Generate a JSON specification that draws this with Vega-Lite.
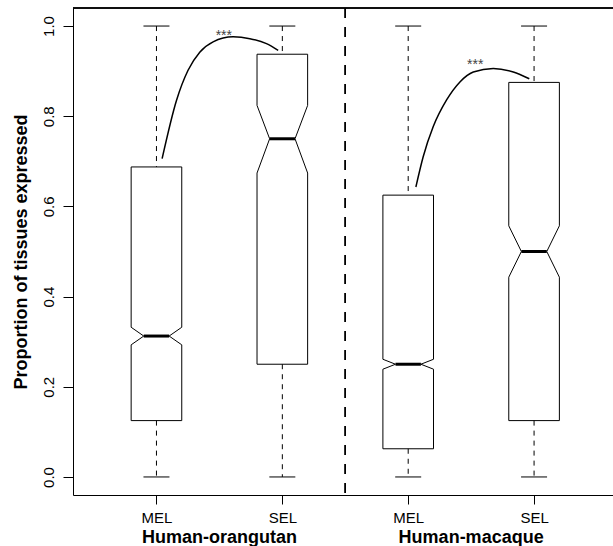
{
  "$schema": "https://vega.github.io/schema/vega-lite/v6.json",
  "width": 540,
  "height": 487,
  "autosize": "none",
  "padding": {"left": 73, "top": 8, "right": 0, "bottom": 51},
  "background": "white",
  "config": {"view": {"stroke": null}, "font": "Liberation Sans"},
  "datasets": {
    "boxes": [
      {"pair": "Human-orangutan", "set": "MEL", "pos": 1, "min": 0, "q1": 0.125, "nlo": 0.293, "med": 0.3125, "nhi": 0.332, "q3": 0.6875, "max": 1},
      {"pair": "Human-orangutan", "set": "SEL", "pos": 2, "min": 0, "q1": 0.25, "nlo": 0.674, "med": 0.75, "nhi": 0.824, "q3": 0.9375, "max": 1},
      {"pair": "Human-macaque", "set": "MEL", "pos": 3, "min": 0, "q1": 0.0625, "nlo": 0.239, "med": 0.25, "nhi": 0.261, "q3": 0.625, "max": 1},
      {"pair": "Human-macaque", "set": "SEL", "pos": 4, "min": 0, "q1": 0.125, "nlo": 0.443, "med": 0.5, "nhi": 0.557, "q3": 0.875, "max": 1}
    ],
    "curves": [
      {"cmp": "orangutan", "x": 1.045, "y": 0.706},
      {"cmp": "orangutan", "x": 1.159, "y": 0.835},
      {"cmp": "orangutan", "x": 1.251, "y": 0.902},
      {"cmp": "orangutan", "x": 1.344, "y": 0.942},
      {"cmp": "orangutan", "x": 1.45, "y": 0.965},
      {"cmp": "orangutan", "x": 1.609, "y": 0.976},
      {"cmp": "orangutan", "x": 1.742, "y": 0.972},
      {"cmp": "orangutan", "x": 1.874, "y": 0.961},
      {"cmp": "orangutan", "x": 1.967, "y": 0.946},
      {"cmp": "macaque", "x": 3.061, "y": 0.643},
      {"cmp": "macaque", "x": 3.119, "y": 0.71},
      {"cmp": "macaque", "x": 3.199, "y": 0.777},
      {"cmp": "macaque", "x": 3.305, "y": 0.836},
      {"cmp": "macaque", "x": 3.411, "y": 0.876},
      {"cmp": "macaque", "x": 3.517, "y": 0.898},
      {"cmp": "macaque", "x": 3.676, "y": 0.906},
      {"cmp": "macaque", "x": 3.835, "y": 0.898},
      {"cmp": "macaque", "x": 3.962, "y": 0.883}
    ],
    "stars": [
      {"x": 1.535, "y": 0.97, "label": "***"},
      {"x": 3.533, "y": 0.905, "label": "***"}
    ],
    "groups": [
      {"pair": "Human-orangutan", "center": 1.5},
      {"pair": "Human-macaque", "center": 3.5}
    ]
  },
  "layer": [
    {
      "data": {"name": "boxes"},
      "mark": {"type": "rule", "xOffset": -25.3, "color": "black", "strokeWidth": 1},
      "encoding": {
        "x": {"field": "pos", "type": "quantitative", "title": null, "scale": {"domain": [0.337, 4.627], "nice": false, "zero": false},
          "axis": {"values": [1, 2, 3, 4], "labelExpr": "datum.value == 1 || datum.value == 3 ? 'MEL' : 'SEL'", "tickSize": 9, "labelPadding": 6, "labelFontSize": 15, "labelFont": "Liberation Sans", "labelColor": "black", "tickColor": "black", "domainColor": "black", "grid": false, "labelAngle": 0, "labelBaseline": "top", "labelAlign": "center"}},
        "y": {"field": "q1", "type": "quantitative", "title": "Proportion of tissues expressed", "scale": {"domain": [-0.04, 1.04], "nice": false, "zero": false},
          "axis": {"values": [0, 0.2, 0.4, 0.6, 0.8, 1], "format": ".1f", "labelAngle": 270, "labelAlign": "center", "labelBaseline": "alphabetic", "labelPadding": 10, "tickSize": 10, "tickColor": "black", "domainColor": "black", "labelColor": "black", "labelFont": "Liberation Sans", "labelFontSize": 15, "grid": false, "titleFont": "Liberation Sans", "titleFontSize": 18, "titleFontWeight": "bold", "titleColor": "black", "titleAngle": 270, "titleAlign": "center", "titleBaseline": "alphabetic", "titleX": -47, "titleY": 243.5}},
        "y2": {"field": "nlo"}
      }
    },
    {
      "data": {"name": "boxes"},
      "mark": {"type": "rule", "xOffset": -25.3, "color": "black", "strokeWidth": 1},
      "encoding": {
        "x": {"field": "pos", "type": "quantitative", "title": null},
        "y": {"field": "nhi", "type": "quantitative", "title": "Proportion of tissues expressed"},
        "y2": {"field": "q3"}
      }
    },
    {
      "data": {"name": "boxes"},
      "mark": {"type": "rule", "xOffset": 25.3, "color": "black", "strokeWidth": 1},
      "encoding": {
        "x": {"field": "pos", "type": "quantitative", "title": null},
        "y": {"field": "q1", "type": "quantitative", "title": "Proportion of tissues expressed"},
        "y2": {"field": "nlo"}
      }
    },
    {
      "data": {"name": "boxes"},
      "mark": {"type": "rule", "xOffset": 25.3, "color": "black", "strokeWidth": 1},
      "encoding": {
        "x": {"field": "pos", "type": "quantitative", "title": null},
        "y": {"field": "nhi", "type": "quantitative", "title": "Proportion of tissues expressed"},
        "y2": {"field": "q3"}
      }
    },
    {
      "data": {"name": "boxes"},
      "mark": {"type": "rule", "xOffset": -25.3, "x2Offset": -12.7, "color": "black", "strokeWidth": 1},
      "encoding": {
        "x": {"field": "pos", "type": "quantitative", "title": null},
        "x2": {"field": "pos"},
        "y": {"field": "nlo", "type": "quantitative", "title": "Proportion of tissues expressed"},
        "y2": {"field": "med"}
      }
    },
    {
      "data": {"name": "boxes"},
      "mark": {"type": "rule", "xOffset": -25.3, "x2Offset": -12.7, "color": "black", "strokeWidth": 1},
      "encoding": {
        "x": {"field": "pos", "type": "quantitative", "title": null},
        "x2": {"field": "pos"},
        "y": {"field": "nhi", "type": "quantitative", "title": "Proportion of tissues expressed"},
        "y2": {"field": "med"}
      }
    },
    {
      "data": {"name": "boxes"},
      "mark": {"type": "rule", "xOffset": 25.3, "x2Offset": 12.7, "color": "black", "strokeWidth": 1},
      "encoding": {
        "x": {"field": "pos", "type": "quantitative", "title": null},
        "x2": {"field": "pos"},
        "y": {"field": "nlo", "type": "quantitative", "title": "Proportion of tissues expressed"},
        "y2": {"field": "med"}
      }
    },
    {
      "data": {"name": "boxes"},
      "mark": {"type": "rule", "xOffset": 25.3, "x2Offset": 12.7, "color": "black", "strokeWidth": 1},
      "encoding": {
        "x": {"field": "pos", "type": "quantitative", "title": null},
        "x2": {"field": "pos"},
        "y": {"field": "nhi", "type": "quantitative", "title": "Proportion of tissues expressed"},
        "y2": {"field": "med"}
      }
    },
    {
      "data": {"name": "boxes"},
      "mark": {"type": "rule", "xOffset": -25.3, "x2Offset": 25.3, "color": "black", "strokeWidth": 1},
      "encoding": {
        "x": {"field": "pos", "type": "quantitative", "title": null},
        "x2": {"field": "pos"},
        "y": {"field": "q3", "type": "quantitative", "title": "Proportion of tissues expressed"}
      }
    },
    {
      "data": {"name": "boxes"},
      "mark": {"type": "rule", "xOffset": -25.3, "x2Offset": 25.3, "color": "black", "strokeWidth": 1},
      "encoding": {
        "x": {"field": "pos", "type": "quantitative", "title": null},
        "x2": {"field": "pos"},
        "y": {"field": "q1", "type": "quantitative", "title": "Proportion of tissues expressed"}
      }
    },
    {
      "data": {"name": "boxes"},
      "mark": {"type": "rule", "xOffset": -12.7, "x2Offset": 12.7, "color": "black", "strokeWidth": 3},
      "encoding": {
        "x": {"field": "pos", "type": "quantitative", "title": null},
        "x2": {"field": "pos"},
        "y": {"field": "med", "type": "quantitative", "title": "Proportion of tissues expressed"}
      }
    },
    {
      "data": {"name": "boxes"},
      "mark": {"type": "rule", "color": "black", "strokeWidth": 1, "strokeDash": [5, 5]},
      "encoding": {
        "x": {"field": "pos", "type": "quantitative", "title": null},
        "y": {"field": "max", "type": "quantitative", "title": "Proportion of tissues expressed"},
        "y2": {"field": "q3"}
      }
    },
    {
      "data": {"name": "boxes"},
      "mark": {"type": "rule", "color": "black", "strokeWidth": 1, "strokeDash": [5, 5]},
      "encoding": {
        "x": {"field": "pos", "type": "quantitative", "title": null},
        "y": {"field": "q1", "type": "quantitative", "title": "Proportion of tissues expressed"},
        "y2": {"field": "min"}
      }
    },
    {
      "data": {"name": "boxes"},
      "mark": {"type": "rule", "xOffset": -13, "x2Offset": 13, "color": "black", "strokeWidth": 1},
      "encoding": {
        "x": {"field": "pos", "type": "quantitative", "title": null},
        "x2": {"field": "pos"},
        "y": {"field": "max", "type": "quantitative", "title": "Proportion of tissues expressed"}
      }
    },
    {
      "data": {"name": "boxes"},
      "mark": {"type": "rule", "xOffset": -13, "x2Offset": 13, "color": "black", "strokeWidth": 1},
      "encoding": {
        "x": {"field": "pos", "type": "quantitative", "title": null},
        "x2": {"field": "pos"},
        "y": {"field": "min", "type": "quantitative", "title": "Proportion of tissues expressed"}
      }
    },
    {
      "data": {"name": "boxes"},
      "mark": {"type": "rule", "color": "black", "strokeWidth": 1.2, "strokeDash": [10, 9]},
      "encoding": {
        "x": {"datum": 2.5, "type": "quantitative", "title": null}
      }
    },
    {
      "data": {"name": "boxes"},
      "mark": {"type": "rule", "color": "black", "strokeWidth": 1},
      "encoding": {
        "y": {"datum": 1.04, "type": "quantitative", "title": "Proportion of tissues expressed"}
      }
    },
    {
      "data": {"name": "curves"},
      "mark": {"type": "line", "interpolate": "monotone", "color": "black", "strokeWidth": 1.5},
      "encoding": {
        "x": {"field": "x", "type": "quantitative", "title": null},
        "y": {"field": "y", "type": "quantitative", "title": "Proportion of tissues expressed"},
        "detail": {"field": "cmp"}
      }
    },
    {
      "data": {"name": "stars"},
      "mark": {"type": "text", "fontSize": 14, "color": "#444444", "align": "center", "baseline": "alphabetic", "font": "Liberation Sans"},
      "encoding": {
        "x": {"field": "x", "type": "quantitative", "title": null},
        "y": {"field": "y", "type": "quantitative", "title": "Proportion of tissues expressed"},
        "text": {"field": "label"}
      }
    },
    {
      "data": {"name": "groups"},
      "mark": {"type": "text", "fontSize": 18, "fontWeight": "bold", "color": "black", "align": "center", "baseline": "alphabetic", "font": "Liberation Sans", "dy": 48},
      "encoding": {
        "x": {"field": "center", "type": "quantitative", "title": null},
        "y": {"datum": -0.04, "type": "quantitative", "title": "Proportion of tissues expressed"},
        "text": {"field": "pair"}
      }
    }
  ]
}
